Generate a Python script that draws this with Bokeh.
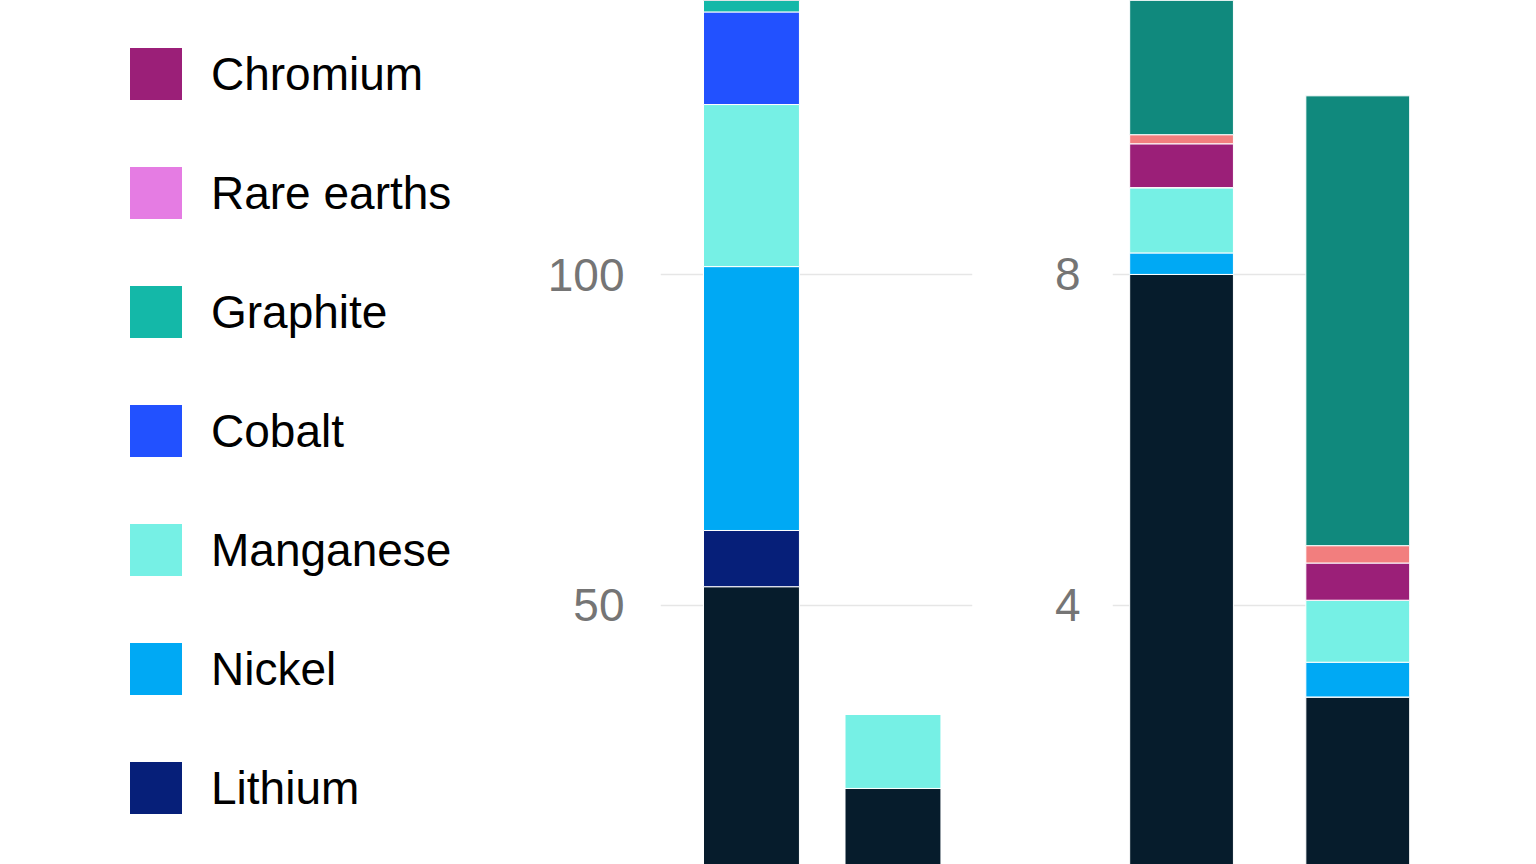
import numpy as np
from bokeh.plotting import figure
from bokeh.layouts import row
from bokeh.models import Range1d, FixedTicker, Legend, LegendItem, ColumnDataSource
from bokeh.embed import file_html
from bokeh.resources import INLINE

# ---- data ----
series = ["Copper", "Lithium", "Nickel", "Manganese", "Cobalt", "Graphite",
          "Rare earths", "Chromium", "Molybdenum", "Silicon"]
colors = ["#061c2c", "#061f79", "#00a9f4", "#76f0e5", "#2251ff", "#14b8a8",
          "#e57ce3", "#9b1f78", "#f27e7e", "#10897d"]

left_x = [0, 1]
left_vals = {
    "Copper":      [52.8, 22.3],
    "Lithium":     [8.5, 0.0],
    "Nickel":      [39.9, 0.0],
    "Manganese":   [24.5, 11.2],
    "Cobalt":      [14.0, 0.0],
    "Graphite":    [5.0, 0.0],
    "Rare earths": [0.0, 0.0],
    "Chromium":    [0.0, 0.0],
    "Molybdenum":  [0.0, 0.0],
    "Silicon":     [0.0, 0.0],
}
left_ticks = [50, 100]

right_x = [0, 1]
right_vals = {
    "Copper":      [8.0, 2.89],
    "Lithium":     [0.0, 0.0],
    "Nickel":      [0.26, 0.42],
    "Manganese":   [0.79, 0.75],
    "Cobalt":      [0.0, 0.0],
    "Graphite":    [0.0, 0.0],
    "Rare earths": [0.0, 0.0],
    "Chromium":    [0.53, 0.45],
    "Molybdenum":  [0.11, 0.21],
    "Silicon":     [2.5, 5.44],
}
right_ticks = [4, 8]

legend_labels = ["Chromium", "Rare earths", "Graphite", "Cobalt",
                 "Manganese", "Nickel", "Lithium"]

FONT = "Liberation Sans"
H = 864

# ---- legend figure ----
pl = figure(width=540, height=H, output_backend="svg", toolbar_location=None,
            x_axis_location=None, y_axis_location=None,
            x_range=Range1d(0, 1), y_range=Range1d(0, 1),
            min_border_left=82, min_border_top=0, min_border_right=0,
            min_border_bottom=0)
pl.outline_line_color = None
pl.grid.visible = False
items = []
for lab in legend_labels:
    c = colors[series.index(lab)]
    r = pl.vbar(x=[np.nan], top=[np.nan], width=1, fill_color=c,
                line_color=c, line_alpha=0)
    items.append(LegendItem(label=lab, renderers=[r]))
leg = Legend(items=items, location="top_left", margin=0, padding=41,
             glyph_width=65, glyph_height=65, label_height=52,
             label_standoff=23, spacing=54,
             border_line_alpha=0, background_fill_alpha=0,
             label_text_font=FONT, label_text_font_size="46px",
             label_text_color="#000000")
pl.add_layout(leg, "center")


def panel(xs, vals, ticks, yr, xr, width, bl, br, bar_w, standoff):
    p = figure(width=width, height=H, output_backend="svg", toolbar_location=None,
               x_axis_location=None, x_range=xr, y_range=yr,
               min_border_left=bl, min_border_right=br, min_border_top=0,
               min_border_bottom=0)
    p.outline_line_color = None
    p.xgrid.visible = False
    p.ygrid.grid_line_color = "#e6e6e6"
    p.ygrid.grid_line_width = 1.5
    p.yaxis.ticker = FixedTicker(ticks=ticks)
    p.yaxis.axis_line_color = None
    p.yaxis.major_tick_line_color = None
    p.yaxis.minor_tick_line_color = None
    p.yaxis.major_tick_out = 0
    p.yaxis.major_label_standoff = standoff
    p.yaxis.major_label_text_font = FONT
    p.yaxis.major_label_text_font_size = "46px"
    p.yaxis.major_label_text_color = "#757575"
    data = {"x": xs}
    data.update(vals)
    src = ColumnDataSource(data)
    p.vbar_stack(series, x="x", width=bar_w, source=src, fill_color=colors,
                 line_color="white", line_width=1)
    return p


# left panel frame: x 660..972 ; right panel frame: x 1112..1409
pa = panel(left_x, left_vals, left_ticks, Range1d(10.80, 141.43),
           Range1d(-0.643, 1.562), 460, 120, 28, 0.678, 36)
pb = panel(right_x, right_vals, right_ticks, Range1d(0.864, 11.313),
           Range1d(-0.392, 1.294), 528, 112, 119, 0.589, 32)

layout = row(pl, pa, pb, spacing=0)
open("out.html", "w").write(file_html(layout, INLINE))
